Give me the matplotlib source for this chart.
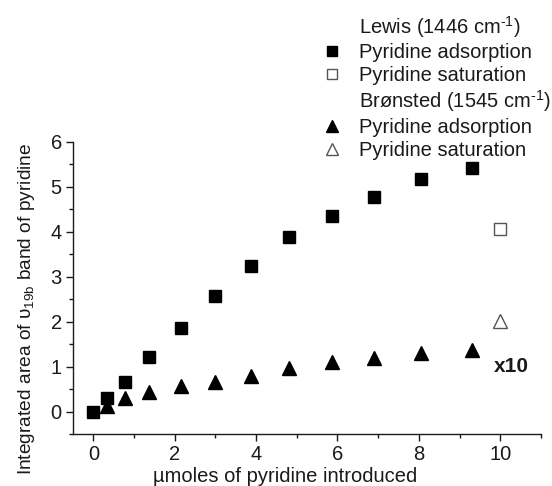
import numpy as np
import matplotlib
matplotlib.use("Agg")
import matplotlib.pyplot as plt
from matplotlib.lines import Line2D

plt.rcParams['font.family'] = ['Liberation Sans', 'DejaVu Sans']
plt.rcParams['mathtext.fontset'] = 'custom'
plt.rcParams['mathtext.rm'] = 'Liberation Sans'
plt.rcParams['mathtext.it'] = 'Liberation Sans:italic'

# pyridine dosed (umol)
pyr_dose = [0.0, 0.34, 0.77, 1.38, 2.16, 3.0, 3.87, 4.82, 5.86, 6.90, 8.04, 9.30]
# Lewis band 1446 cm-1
lewis_ads = [0.0, 0.29, 0.66, 1.21, 1.86, 2.56, 3.23, 3.89, 4.35, 4.77, 5.17, 5.41]
# Bronsted band 1545 cm-1 (x10)
bronsted_dose = pyr_dose[1:]
bronsted_ads = [0.12, 0.29, 0.44, 0.57, 0.665, 0.80, 0.97, 1.09, 1.18, 1.30, 1.37]
sat_dose = [10.0]
lewis_sat = [4.06]
bronsted_sat = [2.01]

fs = 14.5
fig = plt.figure(figsize=(5.52, 4.86), dpi=100)
ax = fig.add_axes([0.1322, 0.107, 0.8478, 0.6016])

ink = '#1a1a1a'
ax.plot(pyr_dose, lewis_ads, ls='none', marker='s', ms=8, color='black')
ax.plot(sat_dose, lewis_sat, ls='none', marker='s', ms=8, mfc='white', mec='#555555', mew=1)
ax.plot(bronsted_dose, bronsted_ads, ls='none', marker='^', ms=9.5, color='black')
ax.plot(sat_dose, bronsted_sat, ls='none', marker='^', ms=9.5, mfc='white', mec='#555555', mew=1)

ax.text(9.85, 1.0, 'x10', fontsize=15, fontweight='bold', va='center', ha='left', color=ink)

ax.set_xlim(-0.5, 11)
ax.set_ylim(-0.5, 6)
ax.set_xticks([0, 2, 4, 6, 8, 10])
ax.set_xticks([1, 3, 5, 7, 9, 11], minor=True)
ax.set_yticks([0, 1, 2, 3, 4, 5, 6])
ax.set_yticks(np.arange(-0.5, 6, 1.0), minor=True)
for s in ['top', 'right']:
    ax.spines[s].set_visible(False)
for s in ['left', 'bottom']:
    ax.spines[s].set_linewidth(1.0)
    ax.spines[s].set_color(ink)
ax.tick_params(which='major', direction='out', length=5, width=1, labelsize=fs, colors=ink, pad=3)
ax.tick_params(which='minor', direction='out', length=3, width=1, colors=ink)

ax.set_xlabel('\u00b5moles of pyridine introduced', fontsize=fs, color=ink)
ax.set_ylabel('Integrated area of \u03c5$_{\\mathrm{19b}}$ band of pyridine', fontsize=13.8, color=ink)
ax.xaxis.set_label_coords(0.453, -0.113)
ax.yaxis.set_label_coords(-0.077, 0.429)

blank = Line2D([], [], ls='none')
handles = [
    blank,
    Line2D([], [], ls='none', marker='s', ms=7, color='black'),
    Line2D([], [], ls='none', marker='s', ms=7, mfc='white', mec='#555555', mew=1),
    blank,
    Line2D([], [], ls='none', marker='^', ms=8, color='black'),
    Line2D([], [], ls='none', marker='^', ms=8, mfc='white', mec='#555555', mew=1),
]
labels = [
    'Lewis (1446 cm$^{\\text{-1}}$)',
    'Pyridine adsorption',
    'Pyridine saturation',
    'Br\u00f8nsted (1545 cm$^{\\text{-1}}$)',
    'Pyridine adsorption',
    'Pyridine saturation',
]
fig.legend(handles, labels, loc='upper left', bbox_to_anchor=(0.573, 0.984),
           frameon=False, fontsize=fs, handlelength=1.0, handletextpad=0.8,
           labelspacing=0.18, borderaxespad=0.0, borderpad=0.3, labelcolor=ink)

fig.savefig('out.png', dpi=100)
